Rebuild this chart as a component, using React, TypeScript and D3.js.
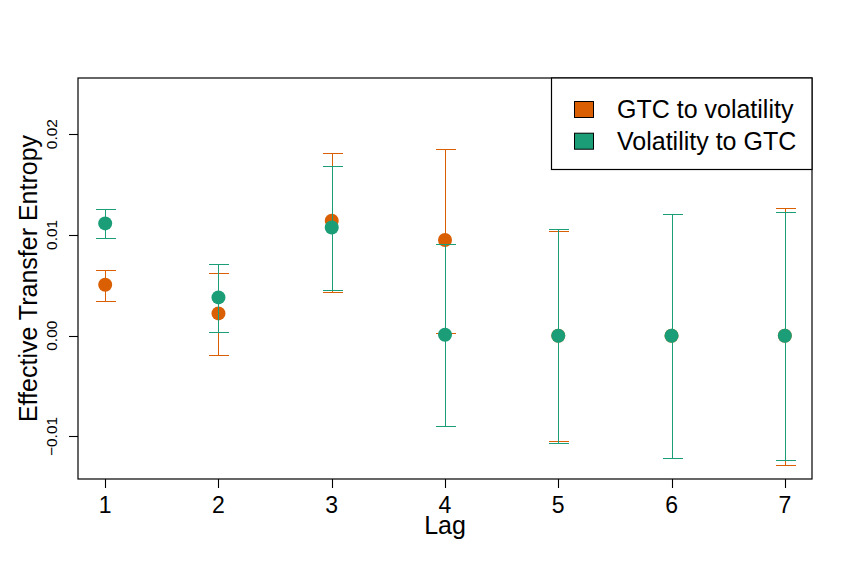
import React from 'react';
import * as d3 from 'd3';

const lags = [1, 2, 3, 4, 5, 6, 7];

const gtcToVolMean = [0.00506, 0.00221, 0.01141, 0.00949, 0.0, 0.0, 0.0];
const gtcToVolLow = [0.00344, -0.00191, 0.00433, 0.00027, -0.01045, -0.01214, -0.0128];
const gtcToVolHigh = [0.00652, 0.00622, 0.01812, 0.01852, 0.01038, 0.01207, 0.01267];

const volToGtcMean = [0.01114, 0.0038, 0.01074, 0.0001, 0.0, 0.0, 0.0];
const volToGtcLow = [0.00969, 0.00037, 0.00453, -0.00896, -0.01061, -0.01214, -0.01233];
const volToGtcHigh = [0.01257, 0.00711, 0.01687, 0.0091, 0.01055, 0.01207, 0.0123];

const yTicks = [-0.01, 0.0, 0.01, 0.02];
const seriesNames = ['GTC to volatility', 'Volatility to GTC'];
const seriesColors = ['#D95F02', '#1B9E77'];

const W = 853;
const H = 577;
const plot = { left: 78, right: 812, top: 78, bottom: 479 };
const font = '"Liberation Sans", Arial, sans-serif';

export default function App() {
  const x = d3.scaleLinear().domain([0.76, 7.24]).range([plot.left, plot.right]);
  const y = d3.scaleLinear().domain([-0.01422, 0.02557]).range([plot.bottom, plot.top]);

  const series = [
    { name: seriesNames[0], color: seriesColors[0], mean: gtcToVolMean, lo: gtcToVolLow, hi: gtcToVolHigh },
    { name: seriesNames[1], color: seriesColors[1], mean: volToGtcMean, lo: volToGtcLow, hi: volToGtcHigh },
  ];
  const cap = 10;
  // snap to pixel centres so 1px lines stay crisp like the R device
  const px = (v: number) => Math.round(v) + 0.5;

  return (
    <svg width={W} height={H} style={{ position: 'absolute', left: 0, top: 0, background: '#fff' }}
      fontFamily={font}>
      <rect x={0} y={0} width={W} height={H} fill="#fff" />

      {/* each series: error bars then points, orange first so green sits on top */}
      {series.map((s, si) => (
        <g key={si}>
          {lags.map((lag, i) => {
            const cx = px(x(lag));
            const lo = px(y(s.lo[i]));
            const hi = px(y(s.hi[i]));
            return (
              <g key={i} stroke={s.color} strokeWidth={1} shapeRendering="crispEdges">
                <line x1={cx} x2={cx} y1={lo} y2={hi} />
                <line x1={cx - cap} x2={cx + cap} y1={lo} y2={lo} />
                <line x1={cx - cap} x2={cx + cap} y1={hi} y2={hi} />
              </g>
            );
          })}
          {lags.map((lag, i) => (
            <circle key={'p' + i} cx={x(lag)} cy={y(s.mean[i])} r={7} fill={s.color} />
          ))}
        </g>
      ))}

      {/* box */}
      <rect x={plot.left} y={plot.top} width={plot.right - plot.left} height={plot.bottom - plot.top}
        fill="none" stroke="#000" strokeWidth={1.2} />

      {/* x axis */}
      {lags.map((lag) => (
        <g key={lag}>
          <line x1={px(x(lag))} x2={px(x(lag))} y1={plot.bottom} y2={plot.bottom + 9} stroke="#000"
            strokeWidth={1.1} />
          <text x={x(lag)} y={513} textAnchor="middle" fontSize={23}>{lag}</text>
        </g>
      ))}
      <text x={(plot.left + plot.right) / 2} y={534} textAnchor="middle" fontSize={25}>Lag</text>

      {/* y axis */}
      {yTicks.map((t) => (
        <g key={t}>
          <line x1={plot.left - 9} x2={plot.left} y1={px(y(t))} y2={px(y(t))} stroke="#000" strokeWidth={1.1} />
          <text transform={`translate(57,${y(t)}) rotate(-90)`} textAnchor="middle" fontSize={15.5}>
            {d3.format('.2f')(t)}
          </text>
        </g>
      ))}
      <text transform={`translate(37,${(plot.top + plot.bottom) / 2}) rotate(-90)`} textAnchor="middle" fontSize={25}>
        Effective Transfer Entropy
      </text>

      {/* legend */}
      <rect x={551.5} y={plot.top} width={plot.right - 551.5} height={169.5 - plot.top}
        fill="#fff" stroke="#000" strokeWidth={1.2} />
      {series.map((s, i) => (
        <g key={'l' + i}>
          <rect x={574.5} y={101.5 + i * 31.7} width={19} height={16} fill={s.color} stroke="#000" strokeWidth={1} />
          <text x={617} y={118 + i * 31.7} fontSize={25}>{s.name}</text>
        </g>
      ))}
    </svg>
  );
}
